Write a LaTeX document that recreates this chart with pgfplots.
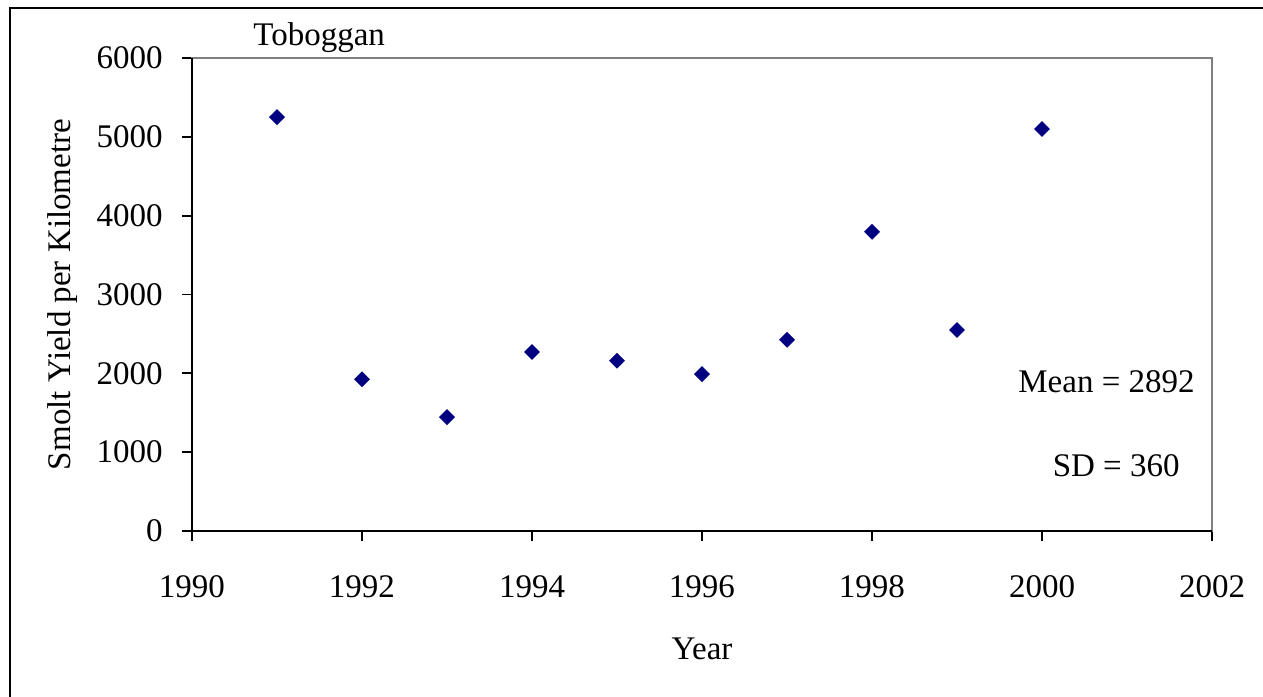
\documentclass[border=0pt]{standalone}
\usepackage{fontspec}
\setmainfont{Liberation Serif}
\usepackage{pgfplots}
\pgfplotsset{compat=1.18}
\definecolor{navy}{HTML}{000080}
\definecolor{boxgray}{HTML}{808080}
\begin{document}
\begin{tikzpicture}[font=\fontsize{16.5}{20}\selectfont]
\useasboundingbox (-96pt,-82.5pt) rectangle (535.5pt,265.5pt);
\begin{axis}[
  at={(0,0)}, anchor=south west,
  scale only axis, width=510pt, height=236.5pt,
  xmin=1990, xmax=2002, ymin=0, ymax=6000,
  xtick={1990,1992,...,2002}, ytick={0,1000,...,6000},
  tick align=outside, xtick pos=left, ytick pos=left,
  major tick length=5pt,
  tick style={black, line width=0.9pt},
  axis line style={boxgray, line width=0.6pt},
  /pgf/number format/1000 sep={},
  /pgf/number format/assume math mode=true,
  xticklabel style={anchor=base, inner sep=0pt, yshift=-28pt},
  yticklabel style={anchor=east, inner sep=0pt, xshift=-9.5pt},
  xticklabel shift=0pt, yticklabel shift=0pt,
  xlabel={Year},
  ylabel={Smolt Yield per Kilometre},
  xlabel style={at={(axis description cs:0.5,-0.2727)}, anchor=base, inner sep=0pt},
  ylabel style={at={(axis description cs:-0.1196,0.5)}, anchor=base, inner sep=0pt},
]
\addplot[only marks, mark=square*, mark size=2.6pt,
  mark options={rotate=45, fill=navy, draw=navy}] coordinates {
  (1991,5250)
  (1992,1925)
  (1993,1445)
  (1994,2270)
  (1995,2160)
  (1996,1990)
  (1997,2425)
  (1998,3795)
  (1999,2550)
  (2000,5100)
};
\end{axis}
% black left and bottom axis lines
\draw[black, line width=0.9pt] (0,236.5pt) -- (0,0) -- (510pt,0);
% outer frame (top and left only visible)
\draw[black, line width=1.2pt] (-91pt,-100pt) -- (-91pt,261.5pt) -- (560pt,261.5pt);
\node[anchor=base west, inner sep=0pt] at (30.5pt,242.5pt) {Toboggan};
\node[anchor=base east, inner sep=0pt] at (501.5pt,69pt) {Mean = 2892};
\node[anchor=base east, inner sep=0pt] at (494pt,27.2pt) {SD = 360};
\end{tikzpicture}
\end{document}
